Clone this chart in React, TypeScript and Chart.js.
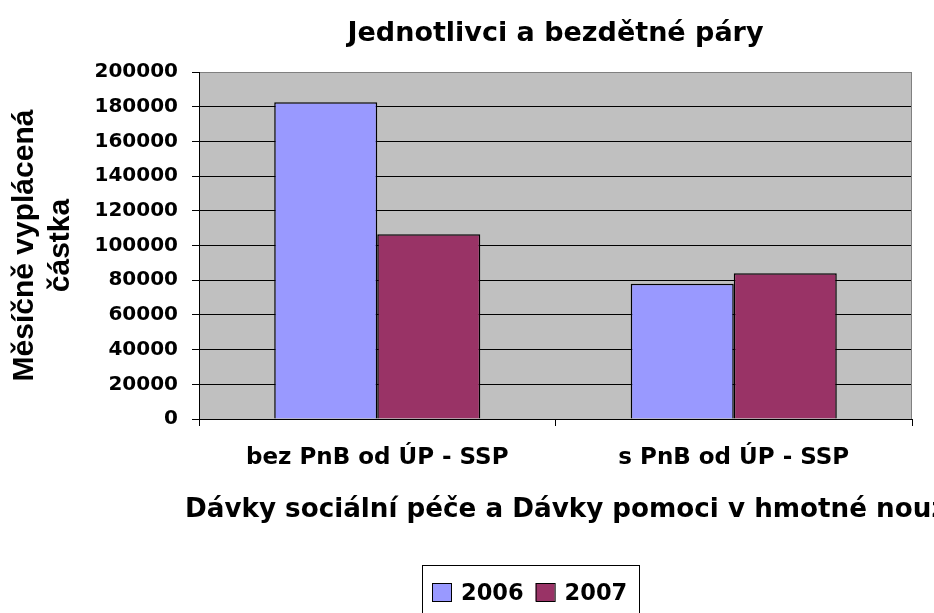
import { useEffect, useRef } from "react";
import { Chart, registerables } from "chart.js";

Chart.register(...registerables);

const chartTitle = "Jednotlivci a bezdětné páry";
const categories = ["bez PnB od ÚP - SSP", "s PnB od ÚP - SSP"];
const seriesNames = ["2006", "2007"];
const values2006 = [182500, 78000];
const values2007 = [106500, 84000];
const seriesColors = ["#9999FF", "#993366"];
const yTitleLines = ["Měsíčně vyplácená", "částka"];
const xTitle = "Dávky sociální péče a Dávky pomoci v hmotné nouzi";
const yMin = 0;
const yMax = 200000;
const yStep = 20000;

const FONT = "'DejaVu Sans', sans-serif";
const FONT_ARIAL = "'Liberation Sans', Arial, sans-serif";

const decorPlugin = {
  id: "decor",
  beforeDraw(chart: any) {
    const { ctx, chartArea: a } = chart;
    ctx.save();
    ctx.fillStyle = "#C0C0C0";
    ctx.fillRect(a.left, a.top, a.right - a.left, a.bottom - a.top);
    ctx.restore();
  },
  beforeDatasetsDraw(chart: any) {
    const { ctx, chartArea: a } = chart;
    ctx.save();
    ctx.strokeStyle = "#808080";
    ctx.lineWidth = 1;
    ctx.beginPath();
    ctx.moveTo(Math.round(a.right) - 0.5, a.top);
    ctx.lineTo(Math.round(a.right) - 0.5, a.bottom);
    ctx.stroke();
    ctx.restore();
  },
  afterDraw(chart: any) {
    const { ctx } = chart;
    ctx.save();
    // x axis title (runs off the right edge as in the original)
    ctx.fillStyle = "#000";
    ctx.font = `bold 26.2px ${FONT}`;
    ctx.textAlign = "left";
    ctx.textBaseline = "alphabetic";
    ctx.fillText(xTitle, 185, 517);

    // legend with frame
    ctx.strokeStyle = "#000";
    ctx.lineWidth = 1;
    ctx.strokeRect(422.5, 565.5, 217, 70);
    ctx.font = `bold 22.5px ${FONT}`;
    let x = 432;
    chart.data.datasets.forEach((ds: any) => {
      ctx.fillStyle = ds.backgroundColor;
      ctx.fillRect(x, 583, 19, 18);
      ctx.strokeStyle = "#000";
      ctx.strokeRect(x + 0.5, 583.5, 19, 18);
      ctx.fillStyle = "#000";
      ctx.fillText(ds.label, x + 29, 600);
      x += 29 + ctx.measureText(ds.label).width + 12;
    });
    ctx.restore();
  },
};

export default function App() {
  const canvasRef = useRef<HTMLCanvasElement | null>(null);

  useEffect(() => {
    if (!canvasRef.current) return;
    const chart = new Chart(canvasRef.current, {
      type: "bar",
      data: {
        labels: categories,
        datasets: [
          {
            label: seriesNames[0],
            data: values2006,
            backgroundColor: seriesColors[0],
            borderColor: "#000",
            borderWidth: 1.5,
            barPercentage: 1,
            categoryPercentage: 0.578,
          },
          {
            label: seriesNames[1],
            data: values2007,
            backgroundColor: seriesColors[1],
            borderColor: "#000",
            borderWidth: 1.5,
            barPercentage: 1,
            categoryPercentage: 0.578,
          },
        ],
      },
      options: {
        animation: false,
        responsive: true,
        maintainAspectRatio: false,
        layout: { padding: { left: 0, right: 22, top: 0, bottom: 0 } },
        plugins: {
          legend: { display: false },
          tooltip: { enabled: false },
          title: {
            display: true,
            text: chartTitle,
            color: "#000",
            fullSize: false,
            font: { family: FONT, size: 27, weight: "bold", lineHeight: 1.2 },
            padding: { top: 17.3, bottom: 22.3 },
          },
        },
        scales: {
          x: {
            afterFit: (scale: any) => {
              scale.height = 194;
            },
            grid: {
              display: true,
              drawOnChartArea: false,
              drawTicks: true,
              tickLength: 7,
              color: "#000",
              offset: true,
            },
            border: { display: true, color: "#000", width: 1 },
            ticks: {
              color: "#000",
              padding: 18,
              maxRotation: 0,
              font: { family: FONT, size: 23, weight: "bold", lineHeight: 1.2 },
            },
          },
          y: {
            min: yMin,
            max: yMax,
            afterFit: (scale: any) => {
              scale.width = 199;
            },
            grid: {
              color: (c: any) => (c.tick && c.tick.value === yMax ? "#808080" : "#000"),
              tickColor: "#000",
              lineWidth: 1,
              tickLength: 7,
            },
            border: { display: true, color: "#000", width: 1 },
            ticks: {
              stepSize: yStep,
              color: "#000",
              padding: 14,
              font: { family: FONT, size: 20, weight: "bold" },
              callback: (v: any) => String(v),
            },
            title: {
              display: true,
              text: yTitleLines,
              color: "#000",
              font: { family: FONT_ARIAL, size: 30, weight: "bold", lineHeight: 1.2 },
              padding: { top: 6.6, bottom: 0 },
            },
          },
        },
      },
      plugins: [decorPlugin],
    });
    return () => chart.destroy();
  }, []);

  return (
    <div style={{ position: "absolute", left: 0, top: 0, width: 934, height: 613 }}>
      <canvas ref={canvasRef} />
    </div>
  );
}
